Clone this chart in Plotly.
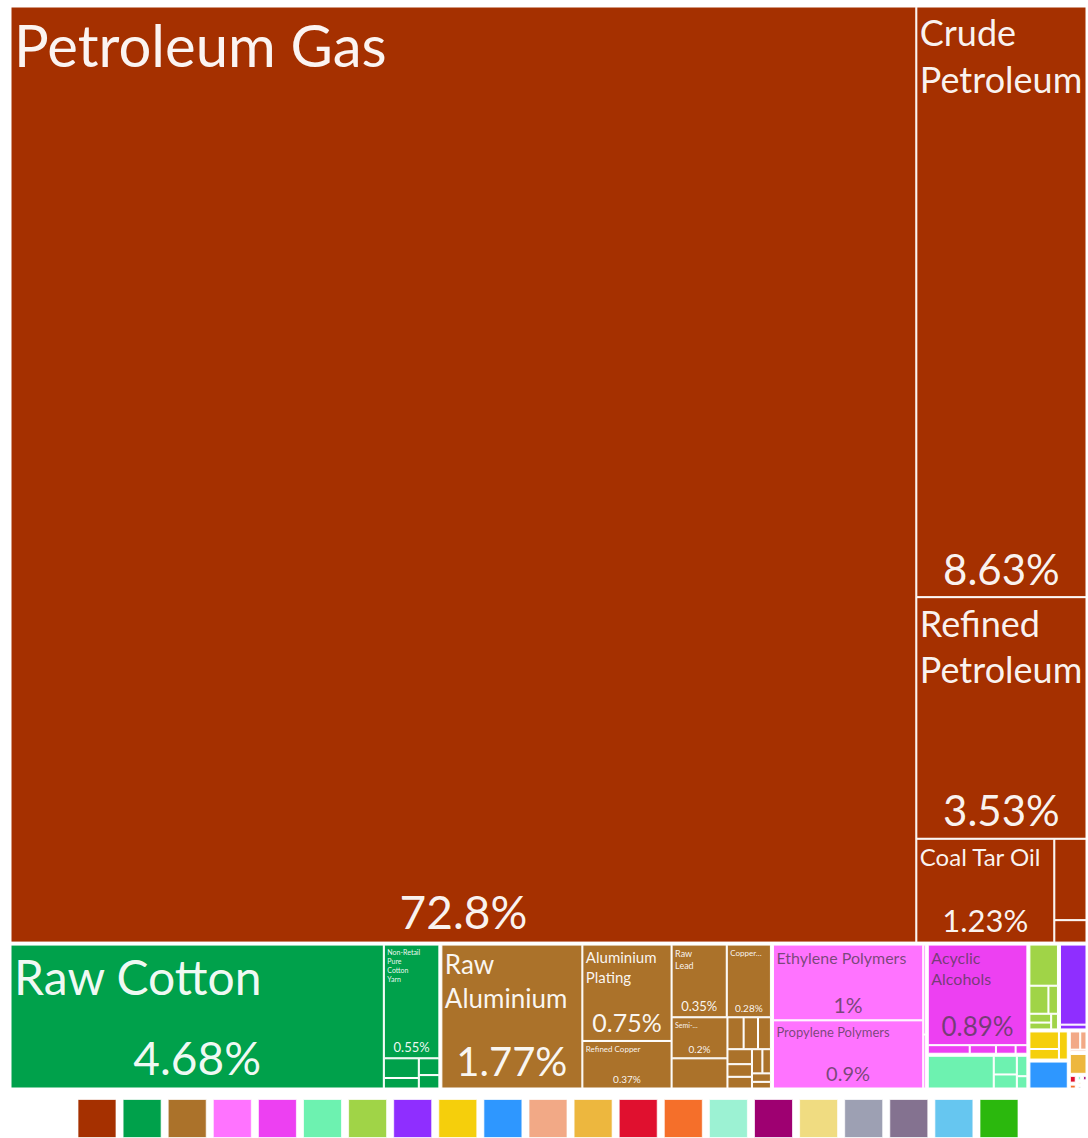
import plotly.graph_objects as go

# ---------------- data ----------------
sectors = [
    "Mineral Products", "Textiles", "Metals", "Plastics and Rubbers", "Chemical Products",
    "Foodstuffs", "Vegetable Products", "Machines", "Animal Products", "Transportation",
    "Stone And Glass", "Animal Hides", "Instruments", "Miscellaneous", "Paper Goods",
    "Weapons", "Wood Products", "Footwear and Headwear", "Arts and Antiques",
    "Precious Metals", "Animal and Vegetable Bi-Products",
]
sector_colors = [
    "#A53000", "#00A14B", "#AB722A", "#FF73FF", "#ED40F2",
    "#6DF2B0", "#A0D447", "#8F2EFF", "#F5CF0C", "#2E97FF",
    "#F2A986", "#EDB73E", "#E0102F", "#F56F2A", "#9CF2D3",
    "#9E0071", "#F0DC81", "#9DA0B3", "#847290", "#66C6F0", "#2BB80D",
]

product_names = [
    # Mineral Products
    "Petroleum Gas", "Crude Petroleum", "Refined Petroleum", "Coal Tar Oil",
    "Petroleum Coke", "Sulphur",
    # Textiles
    "Raw Cotton", "Non-Retail Pure Cotton Yarn", "Cotton Waste", "Knit T-shirts",
    "Light Pure Woven Cotton", "House Linens",
    # Metals
    "Raw Aluminium", "Aluminium Plating", "Refined Copper", "Raw Lead", "Copper Wire",
    "Semi-Finished Iron", "Scrap Copper", "Aluminium Bars", "Raw Zinc", "Scrap Aluminium",
    "Iron Structures", "Aluminium Foil", "Lead Waste", "Copper Bars", "Iron Pipes",
    "Other Iron Products", "Zinc Waste",
    # Plastics and Rubbers
    "Ethylene Polymers", "Propylene Polymers", "Rubber Tires", "Plastic Lids",
    # Chemical Products
    "Acyclic Alcohols", "Nitrogenous Fertilizers", "Ammonia", "Iodine", "Sulfuric Acid",
    # Foodstuffs
    "Cottonseed Oil", "Animal Food", "Sugar Confectionery", "Baked Goods", "Wine",
    # Vegetable Products
    "Cotton Seeds", "Grapes", "Melons", "Dried Legumes", "Tomatoes", "Wheat",
    # Machines
    "Electric Generating Sets", "Valves",
    # Animal Products
    "Raw Silk", "Hides Offal", "Wool",
    # Transportation
    "Delivery Trucks",
    # Stone And Glass
    "Glass Bottles", "Cement", "Building Stone",
    # Animal Hides
    "Raw Sheep Hides",
    # Instruments
    "Medical Instruments",
    # Miscellaneous
    "Carpets",
    # Paper Goods
    "Paper Containers",
    # Weapons
    "Ammunition",
    # Wood Products
    "Wood Crates",
    # Footwear and Headwear
    "Leather Footwear",
    # Arts and Antiques
    "Paintings",
    # Precious Metals
    "Jewellery",
    # Animal and Vegetable Bi-Products
    "Vegetable Fats",
]
product_sectors = (
    ["Mineral Products"] * 6 + ["Textiles"] * 6 + ["Metals"] * 17
    + ["Plastics and Rubbers"] * 4 + ["Chemical Products"] * 5 + ["Foodstuffs"] * 5
    + ["Vegetable Products"] * 6 + ["Machines"] * 2 + ["Animal Products"] * 3
    + ["Transportation"] + ["Stone And Glass"] * 3 + ["Animal Hides"] + ["Instruments"]
    + ["Miscellaneous"] + ["Paper Goods"] + ["Weapons"] + ["Wood Products"]
    + ["Footwear and Headwear"] + ["Arts and Antiques"] + ["Precious Metals"]
    + ["Animal and Vegetable Bi-Products"]
)
product_values = [
    72.8, 8.63, 3.53, 1.23, 0.225, 0.062,
    4.68, 0.55, 0.06, 0.032, 0.03, 0.024,
    1.77, 0.75, 0.37, 0.35, 0.28, 0.2, 0.147, 0.045, 0.04, 0.036, 0.032, 0.027,
    0.025, 0.022, 0.018, 0.014, 0.011,
    1.0, 0.9, 0.02, 0.012,
    0.89, 0.032, 0.02, 0.015, 0.009,
    0.2, 0.04, 0.03, 0.02, 0.012,
    0.11, 0.05, 0.025, 0.018, 0.014, 0.01,
    0.2, 0.012,
    0.05, 0.03, 0.024,
    0.1,
    0.02, 0.012, 0.004,
    0.035,
    0.006,
    0.004,
    0.003,
    0.003,
    0.002, 0.002, 0.0015, 0.001, 0.001,
]

# labels and percentages shown on the tiles
shown_labels = {
    "Petroleum Gas": "Petroleum Gas",
    "Crude Petroleum": "Crude<br>Petroleum",
    "Refined Petroleum": "Refined<br>Petroleum",
    "Coal Tar Oil": "Coal Tar Oil",
    "Raw Cotton": "Raw Cotton",
    "Non-Retail Pure Cotton Yarn": "Non-Retail<br>Pure<br>Cotton<br>Yarn",
    "Raw Aluminium": "Raw<br>Aluminium",
    "Aluminium Plating": "Aluminium<br>Plating",
    "Raw Lead": "Raw<br>Lead",
    "Copper Wire": "Copper...",
    "Semi-Finished Iron": "Semi-...",
    "Refined Copper": "Refined Copper",
    "Ethylene Polymers": "Ethylene Polymers",
    "Propylene Polymers": "Propylene Polymers",
    "Acyclic Alcohols": "Acyclic<br>Alcohols",
}
shown_pcts = {
    "Petroleum Gas": "72.8%", "Crude Petroleum": "8.63%", "Refined Petroleum": "3.53%",
    "Coal Tar Oil": "1.23%", "Raw Cotton": "4.68%", "Non-Retail Pure Cotton Yarn": "0.55%",
    "Raw Aluminium": "1.77%", "Aluminium Plating": "0.75%", "Raw Lead": "0.35%",
    "Copper Wire": "0.28%", "Semi-Finished Iron": "0.2%", "Refined Copper": "0.37%",
    "Ethylene Polymers": "1%", "Propylene Polymers": "0.9%", "Acyclic Alcohols": "0.89%",
}

# ---------------- styles ----------------
label_sizes = {
    "Petroleum Gas": 58, "Crude Petroleum": 36, "Refined Petroleum": 36, "Coal Tar Oil": 24,
    "Raw Cotton": 48, "Non-Retail Pure Cotton Yarn": 7, "Raw Aluminium": 26,
    "Aluminium Plating": 15, "Raw Lead": 9, "Copper Wire": 8, "Semi-Finished Iron": 7,
    "Refined Copper": 8, "Ethylene Polymers": 16, "Propylene Polymers": 13,
    "Acyclic Alcohols": 16,
}
pct_sizes = {
    "Petroleum Gas": 46, "Crude Petroleum": 42, "Refined Petroleum": 42, "Coal Tar Oil": 31,
    "Raw Cotton": 46, "Non-Retail Pure Cotton Yarn": 13, "Raw Aluminium": 40,
    "Aluminium Plating": 25, "Raw Lead": 13, "Copper Wire": 10, "Semi-Finished Iron": 10,
    "Refined Copper": 10, "Ethylene Polymers": 21, "Propylene Polymers": 20,
    "Acyclic Alcohols": 26,
}
light_sectors = {"Plastics and Rubbers", "Chemical Products"}
FONT = "Lato"

color_of = dict(zip(sectors, sector_colors))

ids = list(sectors) + [s + "/" + p for s, p in zip(product_sectors, product_names)]
labels = list(sectors) + list(product_names)
parents = [""] * len(sectors) + list(product_sectors)
values = [0] * len(sectors) + list(product_values)
# sector (parent) tiles are white so the gaps between sectors read as white borders
colors = ["white"] * len(sectors) + [color_of[s] for s in product_sectors]

text_lab = [""] * len(sectors) + [shown_labels.get(p, "") for p in product_names]
text_pct = [""] * len(sectors) + [shown_pcts.get(p, "") for p in product_names]
size_lab = [10] * len(sectors) + [label_sizes.get(p, 10) for p in product_names]
size_pct = [10] * len(sectors) + [pct_sizes.get(p, 10) for p in product_names]
font_col = ["white"] * len(sectors) + [
    "rgba(85,60,85,0.78)" if s in light_sectors else "rgba(255,255,255,0.95)"
    for s in product_sectors
]

domain = dict(x=[9 / 1088, 1.0], y=[1 - 1090 / 1138, 1 - 5 / 1138])
common = dict(
    ids=ids, labels=labels, parents=parents, values=values,
    branchvalues="remainder", sort=True, domain=domain,
    tiling=dict(packing="squarify", squarifyratio=1.618034, pad=1),
    pathbar=dict(visible=False), maxdepth=-1,
)

fig = go.Figure()
fig.add_trace(go.Treemap(
    **common,
    marker=dict(colors=colors, line=dict(color="white", width=1),
                pad=dict(t=1, l=1, r=1, b=1)),
    text=text_lab, texttemplate="%{text}", textposition="top left",
    textfont=dict(family=FONT, size=size_lab, color=font_col),
    hovertemplate="%{label}<extra></extra>",
))
fig.add_trace(go.Treemap(
    **common,
    marker=dict(colors=["rgba(0,0,0,0)"] * len(ids), line=dict(width=0),
                pad=dict(t=1, l=1, r=1, b=1)),
    text=text_pct, texttemplate="%{text}", textposition="bottom center",
    textfont=dict(family=FONT, size=size_pct, color=font_col),
    hoverinfo="skip",
))

# colour legend (squares)
fig.add_trace(go.Scatter(
    x=list(range(len(sectors))), y=[0] * len(sectors), mode="markers",
    marker=dict(symbol="square", size=38, color=sector_colors,
                line=dict(color="rgba(255,255,255,0.7)", width=1)),
    text=sectors, hovertemplate="%{text}<extra></extra>",
    cliponaxis=False, showlegend=False,
))

fig.update_layout(
    width=1088, height=1138,
    margin=dict(l=0, r=0, t=0, b=0),
    paper_bgcolor="white", plot_bgcolor="white",
    showlegend=False,
    xaxis=dict(domain=[0, 1], range=[-97 / 45.1, (1088 - 97) / 45.1], visible=False,
               fixedrange=True),
    yaxis=dict(domain=[0, 39 / 1138], range=[-1, 1], visible=False, fixedrange=True),
)

fig.write_html("out.html",
               config={"displayModeBar": False},
               post_script="document.body.style.margin='0px';"
                           "document.body.style.overflow='hidden';")
